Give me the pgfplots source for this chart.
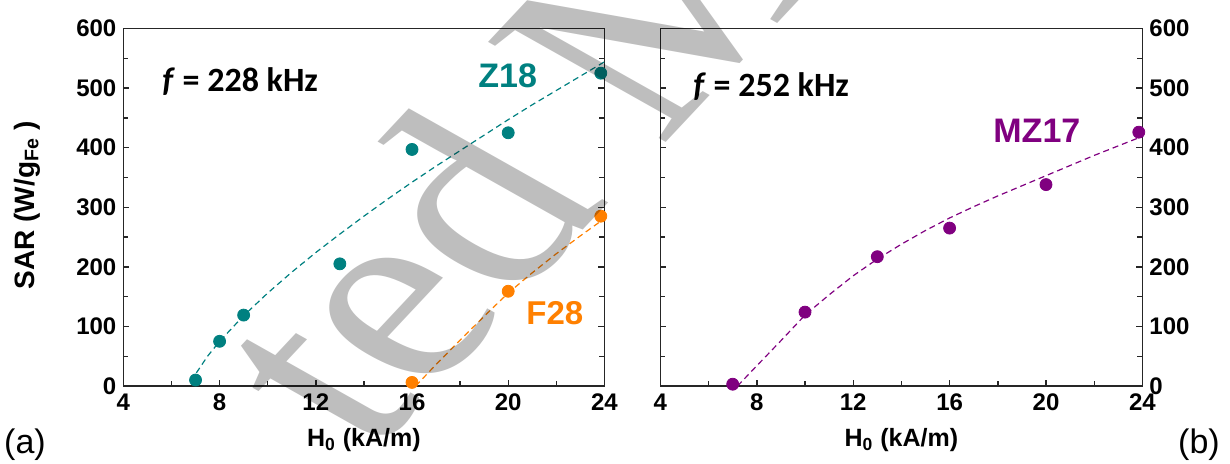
\documentclass[border=0pt]{standalone}
\usepackage{fontspec}
\setmainfont{Liberation Sans}
\newfontfamily\carlito{Carlito}
\newfontfamily\wmfont{Liberation Serif}
\usepackage{pgfplots}
\usepackage{pgfplotstable}
\pgfplotsset{compat=1.18}
\definecolor{zteal}{RGB}{0,128,128}
\definecolor{forange}{RGB}{255,128,0}
\definecolor{mpurple}{RGB}{128,0,128}
\definecolor{wmgray}{RGB}{190,190,190}

% measured points
\pgfplotstableread{
x y
7 10
8 75
9 119
13 205
16 397
20 425
23.85 525
}\ZpointsTable
\pgfplotstableread{
x y
16 6
20 159
23.85 285
}\FpointsTable
\pgfplotstableread{
x y
7 3
10 124
13 217
16 265
20 338
23.85 426
}\MpointsTable
% dashed guide curves
\pgfplotstableread{
x y
6.85 7
7 20
7.5 50
8 75
9 118
10 156
11 191
12 224
13 255
14 285
15 314
16 342
17 369
18 395
19 421
20 447
21 472
22 496
23 520
24 544
}\ZfitTable
\pgfplotstableread{
x y
16.15 0
17 36
18 77
19 117
20 156
21 190
22 222
23 252
24 281
}\FfitTable
\pgfplotstableread{
x y
7.2 0
8 34
9 76
10 119
11 153
12 185
13 213
14 238
15 261
16 282
17 301
18 319
19 336
20 353
21 370
22 387
23 403
24 419
}\MfitTable

\pgfplotsset{
  panel/.style={
    scale only axis, height=178.75pt,
    xmin=4, xmax=24, ymin=0, ymax=600,
    xtick={4,8,...,24}, ytick={0,100,...,600},
    minor x tick num=1, minor y tick num=1,
    tick align=inside, xtick pos=left, ytick pos=both,
    major tick length=3pt, minor tick length=2.5pt,
    axis line style={line width=0.8pt, black!85},
    every tick/.style={black!85, line width=0.7pt},
    tick label style={font=\bfseries\fontsize{12}{14}\selectfont},
    /pgf/number format/assume math mode=true,
    xticklabel style={yshift=-0.5pt},
    xlabel style={font=\bfseries\fontsize{12.5}{14}\selectfont,
      at={(axis description cs:0.5,0)}, anchor=center, yshift=-27pt},
    clip=false,
  },
  pts/.style={only marks, mark=*, mark size=3pt},
  fit/.style={no marks, dash pattern=on 3pt off 2pt, line width=0.6pt},
}

\begin{document}
\begin{tikzpicture}
\useasboundingbox (0,0) rectangle (615pt,232pt);
\clip (0,0) rectangle (615pt,232pt);

% panel (a)
\begin{axis}[panel, width=240.5pt, at={(61.7pt,39pt)}, anchor=south west,
  xlabel={H\textsubscript{0} (kA/m)}]
  \addplot[fit, zteal] table {\ZfitTable};
  \addplot[fit, forange] table {\FfitTable};
  \addplot[pts, zteal, mark options={fill=zteal}] table {\ZpointsTable};
  \addplot[pts, forange, mark options={fill=forange}] table {\FpointsTable};
\end{axis}

% panel (b)
\begin{axis}[panel, width=241pt, at={(330.2pt,39pt)}, anchor=south west,
  yticklabel pos=right,
  xlabel={H\textsubscript{0} (kA/m)}]
  \addplot[fit, mpurple] table {\MfitTable};
  \addplot[pts, mpurple, mark options={fill=mpurple}] table {\MpointsTable};
\end{axis}

% y label
\node[rotate=90, font=\bfseries\fontsize{14}{16}\selectfont] at (13.5pt,129.5pt) {SAR (W/g\textsubscript{Fe} )};

% annotations
\node[anchor=base west, inner sep=0, font=\carlito\bfseries\fontsize{17}{20}\selectfont] at (81pt,186pt) {\textit{f} = 228 kHz};
\node[anchor=base west, inner sep=0, font=\carlito\bfseries\fontsize{17}{20}\selectfont] at (346.5pt,183.7pt) {\textit{f} = 252 kHz};
\node[anchor=base west, inner sep=0, text=zteal, font=\bfseries\fontsize{17}{19}\selectfont] at (239pt,188pt) {Z18};
\node[anchor=base west, inner sep=0, text=forange, font=\bfseries\fontsize{16.5}{19}\selectfont] at (263pt,69.5pt) {F28};
\node[anchor=base west, inner sep=0, text=mpurple, font=\bfseries\fontsize{17}{19}\selectfont] at (496.5pt,160.5pt) {MZ17};

\node[font=\fontsize{17}{20}\selectfont] at (12.5pt,9.5pt) {(a)};
\node[font=\fontsize{17}{20}\selectfont] at (599.5pt,9.5pt) {(b)};

% watermark
\begin{scope}[shift={(185pt,3pt)}, xscale=1.29, transform shape, blend mode=multiply]
\node[rotate=54, anchor=base west, inner sep=0, text=wmgray,
  font=\wmfont\fontsize{130}{130}\selectfont] at (0,0) {ted M};
\end{scope}
\end{tikzpicture}
\end{document}
